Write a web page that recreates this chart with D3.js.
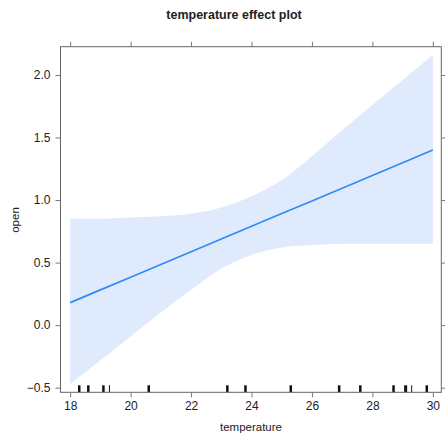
<!DOCTYPE html>
<html>
<head>
<meta charset="utf-8">
<script src="https://cdn.jsdelivr.net/npm/d3@7"></script>
<style>
    body { margin: 0; background: #fff; }
    svg text { font-family: "Liberation Sans", Arial, sans-serif; fill: #222; }
    .axis line { stroke: #777; }
    .axis path { display: none; }
</style>
</head>
<body>
<svg id="view" width="445" height="439"></svg>
<script>
// effect estimate and confidence band at each temperature
const temperature = [18, 19, 20, 21, 22, 23, 24, 25, 26, 27, 28, 29, 30];
const fit   = [0.180, 0.282, 0.383, 0.485, 0.587, 0.688, 0.790, 0.892, 0.993, 1.095, 1.197, 1.298, 1.400];
const lower = [-0.47, -0.28, -0.09, 0.10, 0.28, 0.45, 0.56, 0.62, 0.64, 0.65, 0.65, 0.65, 0.65];
const upper = [0.85, 0.85, 0.86, 0.87, 0.89, 0.94, 1.03, 1.16, 1.35, 1.56, 1.76, 1.96, 2.16];

// observed temperatures (rug), repeats drawn thicker
const rugValues = [18.3, 18.3, 18.6, 18.6, 19.1, 19.1, 19.3, 20.6, 20.6, 23.2, 23.2,
    23.8, 23.8, 25.3, 25.3, 26.9, 26.9, 27.6, 27.6, 28.7, 28.7, 29.1, 29.1, 29.1,
    29.3, 29.8, 29.8];

const xTicks = [18, 20, 22, 24, 26, 28, 30];
const yTicks = [-0.5, 0.0, 0.5, 1.0, 1.5, 2.0];

function draw() {
    var svg = d3.select('svg#view');
    const left = 60.5, right = 441.3, top = 46.7, bottom = 392.3;

    var x = d3.scaleLinear().domain([17.68, 30.28]).range([left, right]);
    var y = d3.scaleLinear().domain([-0.537, 2.226]).range([bottom, top]);

    var rows = temperature.map(function(t, i) {
        return { t: t, fit: fit[i], lo: lower[i], hi: upper[i] };
    });

    // band
    svg.append('path')
        .datum(rows)
        .attr('fill', '#e0eafd')
        .attr('d', d3.area()
            .curve(d3.curveMonotoneX)
            .x(function(d) { return x(d.t); })
            .y0(function(d) { return y(d.lo); })
            .y1(function(d) { return y(d.hi); }));

    // fitted line
    svg.append('path')
        .datum(rows)
        .attr('fill', 'none')
        .attr('stroke', '#2f8bf5')
        .attr('stroke-width', 1.7)
        .attr('d', d3.line()
            .x(function(d) { return x(d.t); })
            .y(function(d) { return y(d.fit); }));

    // rug
    var counts = d3.rollups(rugValues, function(v) { return v.length; }, function(d) { return d; });
    svg.append('g')
        .selectAll('line')
        .data(counts)
        .enter()
        .append('line')
        .attr('x1', function(d) { return x(d[0]); })
        .attr('x2', function(d) { return x(d[0]); })
        .attr('y1', bottom)
        .attr('y2', bottom - 7)
        .attr('stroke', '#111')
        .attr('stroke-width', function(d) { return d[1] > 2 ? 3 : d[1] > 1 ? 2.5 : 1; });

    // frame
    svg.append('rect')
        .attr('x', left)
        .attr('y', top)
        .attr('width', right - left)
        .attr('height', bottom - top)
        .attr('fill', 'none')
        .attr('stroke', '#666');

    // axes
    svg.append('g').attr('class', 'axis')
        .attr('transform', 'translate(0,' + bottom + ')')
        .call(d3.axisBottom(x).tickValues(xTicks).tickSize(5).tickPadding(4))
        .selectAll('text').style('font-size', '12px');
    svg.append('g').attr('class', 'axis')
        .attr('transform', 'translate(0,' + top + ')')
        .call(d3.axisTop(x).tickValues(xTicks).tickSize(5).tickFormat(''));
    svg.append('g').attr('class', 'axis')
        .attr('transform', 'translate(' + left + ',0)')
        .call(d3.axisLeft(y).tickValues(yTicks).tickSize(5).tickPadding(5).tickFormat(d3.format('.1f')))
        .selectAll('text').style('font-size', '12px');
    svg.append('g').attr('class', 'axis')
        .attr('transform', 'translate(' + right + ',0)')
        .call(d3.axisRight(y).tickValues(yTicks).tickSize(5).tickFormat(''));

    // titles
    svg.append('text')
        .attr('x', 234)
        .attr('y', 19)
        .attr('text-anchor', 'middle')
        .style('font-size', '12.5px')
        .style('font-weight', 'bold')
        .text('temperature effect plot');
    svg.append('text')
        .attr('x', 251)
        .attr('y', 431)
        .attr('text-anchor', 'middle')
        .style('font-size', '11.5px')
        .text('temperature');
    svg.append('text')
        .attr('transform', 'translate(19,220) rotate(-90)')
        .attr('text-anchor', 'middle')
        .style('font-size', '11.5px')
        .text('open');
}

draw();
</script>
</body>
</html>
